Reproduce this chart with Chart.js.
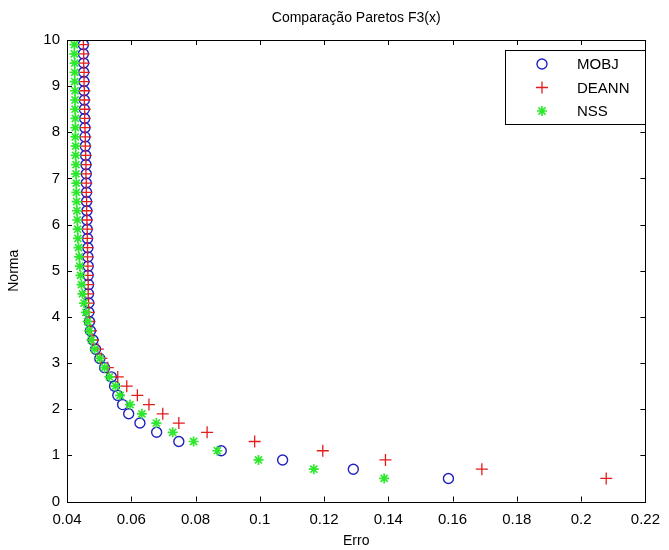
<!DOCTYPE html>
<html>
<head>
<meta charset="utf-8">
<script src="https://cdn.jsdelivr.net/npm/chart.js@4"></script>
<style>
  html, body { margin: 0; padding: 0; background: #fff; }
  #wrap { width: 669px; height: 550px; }
</style>
</head>
<body>
<div id="wrap"><canvas id="chart" width="669" height="550"></canvas></div>
<script>
// y values (Norma) shared by the three fronts
const normaValues = [0.5, 0.7, 0.9, 1.1, 1.3, 1.5, 1.7, 1.9, 2.1, 2.3, 2.5, 2.7, 2.9, 3.1, 3.3, 3.5,
    3.7, 3.9, 4.1, 4.3, 4.5, 4.7, 4.9, 5.1, 5.3, 5.5, 5.7, 5.9, 6.1, 6.3, 6.5, 6.7,
    6.9, 7.1, 7.3, 7.5, 7.7, 7.9, 8.1, 8.3, 8.5, 8.7, 8.9, 9.1, 9.3, 9.5, 9.7, 9.9];

// Erro for each front
const erroMOBJ = [0.1587, 0.1291, 0.1071, 0.0880, 0.0748, 0.0679, 0.0627, 0.0592, 0.0573, 0.0558, 0.0548, 0.0538, 0.0517, 0.0502, 0.0489, 0.0481,
    0.0473, 0.0470, 0.0468, 0.0468, 0.0467, 0.0467, 0.0466, 0.0466, 0.0465, 0.0465, 0.0464, 0.0463, 0.0462, 0.0462, 0.0461, 0.0461,
    0.0460, 0.0460, 0.0459, 0.0458, 0.0457, 0.0456, 0.0456, 0.0455, 0.0454, 0.0454, 0.0453, 0.0453, 0.0452, 0.0452, 0.0451, 0.0451];
const erroDEANN = [0.2078, 0.1691, 0.1391, 0.1196, 0.0984, 0.0836, 0.0748, 0.0698, 0.0655, 0.0619, 0.0586, 0.0558, 0.0527, 0.0507, 0.0496, 0.0481,
    0.0475, 0.0470, 0.0468, 0.0467, 0.0466, 0.0466, 0.0465, 0.0465, 0.0464, 0.0464, 0.0463, 0.0463, 0.0462, 0.0461, 0.0461, 0.0460,
    0.0460, 0.0459, 0.0459, 0.0458, 0.0457, 0.0457, 0.0456, 0.0455, 0.0455, 0.0454, 0.0454, 0.0453, 0.0453, 0.0452, 0.0452, 0.0451];
const erroNSS = [0.1387, 0.1168, 0.0996, 0.0868, 0.0794, 0.0729, 0.0678, 0.0633, 0.0596, 0.0565, 0.0551, 0.0532, 0.0517, 0.0502, 0.0486, 0.0476,
    0.0469, 0.0464, 0.0459, 0.0453, 0.0448, 0.0445, 0.0442, 0.0440, 0.0438, 0.0436, 0.0434, 0.0433, 0.0432, 0.0431, 0.0430, 0.0429,
    0.0429, 0.0428, 0.0428, 0.0427, 0.0427, 0.0426, 0.0426, 0.0426, 0.0425, 0.0425, 0.0425, 0.0424, 0.0424, 0.0424, 0.0423, 0.0423];

const seriesNames = ['MOBJ', 'DEANN', 'NSS'];
const titleText = 'Comparação Paretos F3(x)';
const xLabel = 'Erro';
const yLabel = 'Norma';

const FONT = '"Liberation Sans", Arial, sans-serif';

const toPoints = (xs) => xs.map((x, i) => ({ x: x, y: normaValues[i] }));

const styles = [
    { pointStyle: 'circle', color: '#2020c0', radius: 5, width: 1.4 },
    { pointStyle: 'cross', color: '#e31c1c', radius: 6, width: 1.3 },
    { pointStyle: 'star', color: '#2ee82e', radius: 5, width: 1.7 }
];
const dataArrays = [erroMOBJ, erroDEANN, erroNSS];

const datasets = seriesNames.map((name, i) => ({
    label: name,
    data: toPoints(dataArrays[i]),
    pointStyle: styles[i].pointStyle,
    pointRadius: styles[i].radius,
    pointBorderColor: styles[i].color,
    pointBackgroundColor: 'rgba(0,0,0,0)',
    pointBorderWidth: styles[i].width,
    showLine: false,
    order: 3 - i
}));

// frame, inner ticks, title, axis labels and legend drawn matlab style
const matlabLook = {
    id: 'matlabLook',
    afterDraw(chart) {
        const ctx = chart.ctx;
        const a = chart.chartArea;
        const xs = chart.scales.x, ys = chart.scales.y;
        ctx.save();
        ctx.strokeStyle = '#000';
        ctx.lineWidth = 1;
        ctx.strokeRect(Math.round(a.left) + 0.5, Math.round(a.top) + 0.5,
            Math.round(a.right - a.left), Math.round(a.bottom - a.top));

        const tl = 5;
        ctx.beginPath();
        xs.ticks.forEach(t => {
            const px = Math.round(xs.getPixelForValue(t.value)) + 0.5;
            ctx.moveTo(px, a.bottom); ctx.lineTo(px, a.bottom - tl);
            ctx.moveTo(px, a.top); ctx.lineTo(px, a.top + tl);
        });
        ys.ticks.forEach(t => {
            const py = Math.round(ys.getPixelForValue(t.value)) + 0.5;
            ctx.moveTo(a.left, py); ctx.lineTo(a.left + tl, py);
            ctx.moveTo(a.right, py); ctx.lineTo(a.right - tl, py);
        });
        ctx.stroke();

        ctx.fillStyle = '#000';
        ctx.font = '14px ' + FONT;
        ctx.textAlign = 'center';
        ctx.textBaseline = 'middle';
        ctx.fillText(titleText, (a.left + a.right) / 2, 18);
        ctx.fillText(xLabel, (a.left + a.right) / 2, 541);
        ctx.save();
        ctx.translate(14, (a.top + a.bottom) / 2);
        ctx.rotate(-Math.PI / 2);
        ctx.fillText(yLabel, 0, 0);
        ctx.restore();

        // legend
        const lx = 505, ly = 50, lw = 140, lh = 74;
        ctx.fillStyle = '#fff';
        ctx.fillRect(lx, ly, lw, lh);
        ctx.strokeRect(lx + 0.5, ly + 0.5, lw, lh);
        ctx.font = '15px ' + FONT;
        ctx.textAlign = 'left';
        seriesNames.forEach((name, i) => {
            const yy = ly + 14 + i * 23.5;
            const ds = chart.data.datasets[i];
            ctx.strokeStyle = ds.pointBorderColor;
            ctx.fillStyle = 'rgba(0,0,0,0)';
            ctx.lineWidth = ds.pointBorderWidth;
            Chart.helpers.drawPoint(ctx, {
                pointStyle: ds.pointStyle,
                radius: ds.pointRadius,
                borderWidth: ds.pointBorderWidth,
                rotation: 0
            }, 542, yy);
            ctx.fillStyle = '#000';
            ctx.fillText(name, 577, yy + 1);
        });
        ctx.restore();
    }
};

new Chart(document.getElementById('chart'), {
    type: 'scatter',
    data: { datasets: datasets },
    options: {
        responsive: false,
        animation: false,
        devicePixelRatio: 1,
        layout: { padding: { left: 0, top: 40, right: 17, bottom: 0 } },
        plugins: {
            legend: { display: false },
            tooltip: { enabled: false },
            title: { display: false }
        },
        scales: {
            x: {
                type: 'linear',
                min: 0.04,
                max: 0.22,
                border: { display: false },
                grid: { display: false, drawTicks: false },
                ticks: {
                    stepSize: 0.02,
                    padding: 9,
                    color: '#000',
                    font: { family: FONT, size: 15 },
                    maxRotation: 0,
                    callback: v => String(+v.toFixed(2))
                },
                afterFit: s => { s.height = 48.5; }
            },
            y: {
                type: 'linear',
                min: 0,
                max: 10,
                border: { display: false },
                grid: { display: false, drawTicks: false },
                ticks: {
                    stepSize: 1,
                    padding: 7,
                    color: '#000',
                    font: { family: FONT, size: 15 }
                },
                afterFit: s => { s.width = 67; }
            }
        }
    },
    plugins: [matlabLook]
});
</script>
</body>
</html>
